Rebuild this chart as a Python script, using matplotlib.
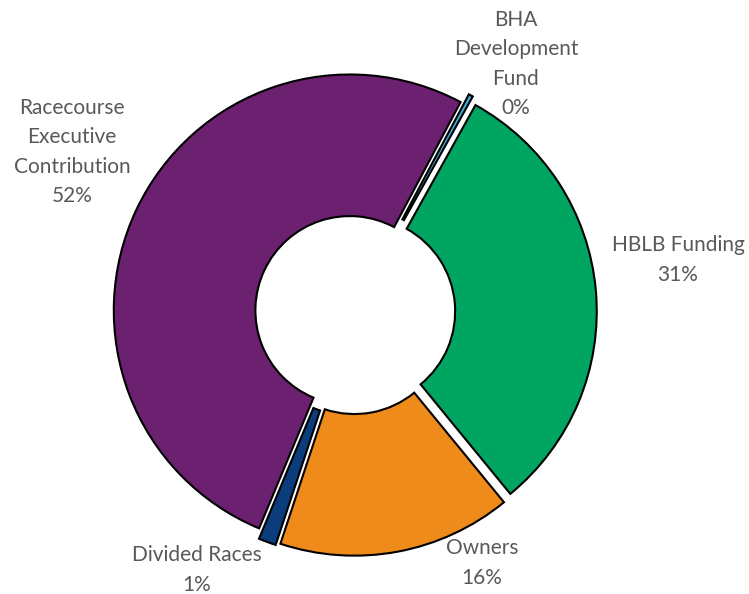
import matplotlib.pyplot as plt

# Funding shares (%), clockwise from the top-right
labels = ["BHA\nDevelopment\nFund\n0%", "HBLB Funding\n31%", "Owners\n16%",
          "Divided Races\n1%", "Racecourse\nExecutive\nContribution\n52%"]
shares = [0.3, 31.0, 16.0, 1.2, 51.5]
colors = ["#3FA9D5", "#00A562", "#EF8B1A", "#0B3C7C", "#6C2070"]
explode = [0.045, 0.033, 0.033, 0.04, 0.015]

# label anchor points in figure pixels (from top-left)
label_px = [(516, 64), (678, 260), (482, 563), (197, 570), (72, 152)]

W, H = 749, 594
fig = plt.figure(figsize=(W / 100, H / 100), dpi=100)
R = 236
cx, cy = 353, 312
half = 1.2
ax = fig.add_axes([(cx - half * R) / W, (H - cy - half * R) / H, 2 * half * R / W, 2 * half * R / H])

ax.pie(shares, colors=colors, explode=explode, startangle=62, counterclock=False,
       radius=1, wedgeprops=dict(width=0.6, edgecolor="black", linewidth=1.5))
ax.set_xlim(-half, half)
ax.set_ylim(-half, half)
ax.set_aspect("equal")
ax.axis("off")

for txt, (x, y) in zip(labels, label_px):
    fig.text(x / W, 1 - y / H, txt, ha="center", va="center", fontsize=15,
             color="#595959", family="Lato", linespacing=1.58)

fig.savefig("out.png", dpi=100)
